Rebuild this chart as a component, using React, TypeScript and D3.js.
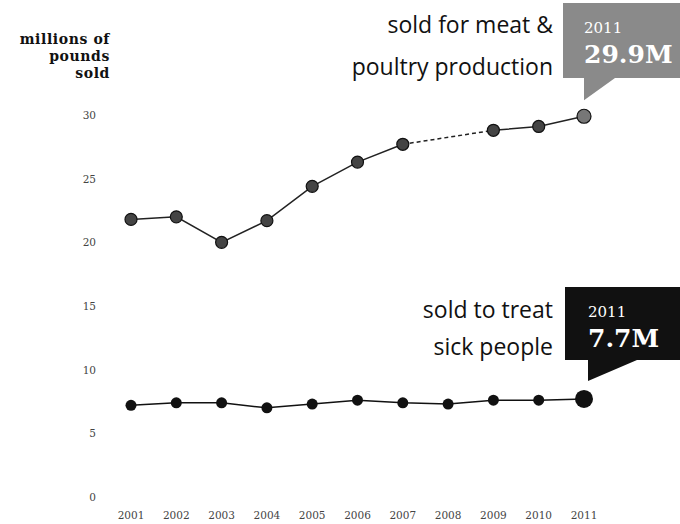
import * as d3 from "d3";
import { useEffect, useRef } from "react";

const years = ["2001", "2002", "2003", "2004", "2005", "2006", "2007", "2008", "2009", "2010", "2011"];
// millions of pounds, 2008 not reported for meat & poultry (dashed gap)
const meatValues: (number | null)[] = [21.8, 22.0, 20.0, 21.7, 24.4, 26.3, 27.7, null, 28.8, 29.1, 29.9];
const humanValues = [7.2, 7.4, 7.4, 7.0, 7.3, 7.6, 7.4, 7.3, 7.6, 7.6, 7.7];
const yTicks = [0, 5, 10, 15, 20, 25, 30];

const App = () => {
  const svgRef = useRef<SVGSVGElement | null>(null);

  useEffect(() => {
    if (!svgRef.current) return;
    const svg = d3.select(svgRef.current);
    svg.selectAll("*").remove();

    const x = d3.scalePoint().domain(years).range([131, 584]);
    const y = d3.scaleLinear().domain([0, 30]).range([497, 115]);

    // y axis labels
    svg
      .append("g")
      .selectAll("text")
      .data(yTicks)
      .join("text")
      .attr("x", 96)
      .attr("y", (d) => y(d) + 4)
      .attr("text-anchor", "end")
      .attr("font-family", "DejaVu Serif")
      .attr("font-size", 10.5)
      .attr("fill", "#444")
      .text((d) => d);

    // x axis labels
    svg
      .append("g")
      .selectAll("text")
      .data(years)
      .join("text")
      .attr("x", (d) => x(d)!)
      .attr("y", 519)
      .attr("text-anchor", "middle")
      .attr("font-family", "DejaVu Serif")
      .attr("font-size", 10.5)
      .attr("fill", "#444")
      .text((d) => d);

    // axis title
    const title = svg
      .append("text")
      .attr("text-anchor", "end")
      .attr("font-family", "DejaVu Serif")
      .attr("font-weight", "bold")
      .attr("font-size", 14)
      .attr("letter-spacing", 0.6)
      .attr("fill", "#111");
    ["millions of", "pounds", "sold"].forEach((t, i) => {
      title.append("tspan").attr("x", 110).attr("y", 44 + i * 17).text(t);
    });

    // meat & poultry line
    const meat = years.map((yr, i) => ({ yr, v: meatValues[i] }));
    const line = d3
      .line<{ yr: string; v: number | null }>()
      .defined((d) => d.v !== null)
      .x((d) => x(d.yr)!)
      .y((d) => y(d.v as number));
    svg
      .append("path")
      .attr("d", line(meat))
      .attr("fill", "none")
      .attr("stroke", "#222")
      .attr("stroke-width", 1.5);
    const known = meat.filter((d) => d.v !== null);
    svg
      .append("path")
      .attr("d", line(known.slice(6, 8)))
      .attr("fill", "none")
      .attr("stroke", "#222")
      .attr("stroke-width", 1.5)
      .attr("stroke-dasharray", "4,3");
    svg
      .append("g")
      .selectAll("circle")
      .data(known)
      .join("circle")
      .attr("cx", (d) => x(d.yr)!)
      .attr("cy", (d) => y(d.v as number))
      .attr("r", (d) => (d.yr === "2011" ? 7 : 6))
      .attr("fill", (d) => (d.yr === "2011" ? "#777" : "#444"))
      .attr("stroke", "#111")
      .attr("stroke-width", 1.2);

    // human medicine line
    const human = years.map((yr, i) => ({ yr, v: humanValues[i] }));
    svg
      .append("path")
      .attr(
        "d",
        d3
          .line<{ yr: string; v: number }>()
          .x((d) => x(d.yr)!)
          .y((d) => y(d.v))(human)
      )
      .attr("fill", "none")
      .attr("stroke", "#111")
      .attr("stroke-width", 1.5);
    svg
      .append("g")
      .selectAll("circle")
      .data(human)
      .join("circle")
      .attr("cx", (d) => x(d.yr)!)
      .attr("cy", (d) => y(d.v))
      .attr("r", (d) => (d.yr === "2011" ? 9 : 5.5))
      .attr("fill", "#111");

    // big labels
    const label = (lines: string[], right: number, y0: number, gap: number) => {
      const t = svg
        .append("text")
        .attr("text-anchor", "end")
        .attr("font-family", "Open Sans")
        .attr("font-size", 23)
        .attr("fill", "#111");
      lines.forEach((s, i) => t.append("tspan").attr("x", right).attr("y", y0 + i * gap).text(s));
    };
    label(["sold for meat &", "poultry production"], 553, 33, 42);
    label(["sold to treat", "sick people"], 553, 318, 37);

    // callouts
    const callout = (
      bx: number,
      by: number,
      bottom: number,
      px: number,
      tipY: number,
      px2: number,
      fill: string,
      yr: string,
      val: string
    ) => {
      svg
        .append("path")
        .attr(
          "d",
          `M${bx},${by}H680V${bottom}H${px2}L${px},${tipY}V${bottom}H${bx}Z`
        )
        .attr("fill", fill);
      svg
        .append("text")
        .attr("x", px)
        .attr("y", by + 30)
        .attr("font-family", "DejaVu Serif")
        .attr("font-size", 15)
        .attr("fill", "#fff")
        .text(yr);
      svg
        .append("text")
        .attr("x", px)
        .attr("y", by + 60)
        .attr("font-family", "DejaVu Serif")
        .attr("font-weight", "bold")
        .attr("font-size", 25)
        .attr("fill", "#fff")
        .text(val);
    };
    const meatLast = meatValues[meatValues.length - 1] as number;
    const humanLast = humanValues[humanValues.length - 1];
    callout(563, 3, 78, x("2011")!, y(meatLast) - 16, 615, "#8a8a8a", "2011", `${meatLast}M`);
    callout(565, 287, 360, x("2011")! + 4, y(humanLast) - 18, 637, "#111", "2011", `${humanLast}M`);
  }, []);

  return (
    <svg
      ref={svgRef}
      width={680}
      height={524}
      style={{ position: "absolute", left: 0, top: 0, background: "#fff" }}
    ></svg>
  );
};

export default App;
